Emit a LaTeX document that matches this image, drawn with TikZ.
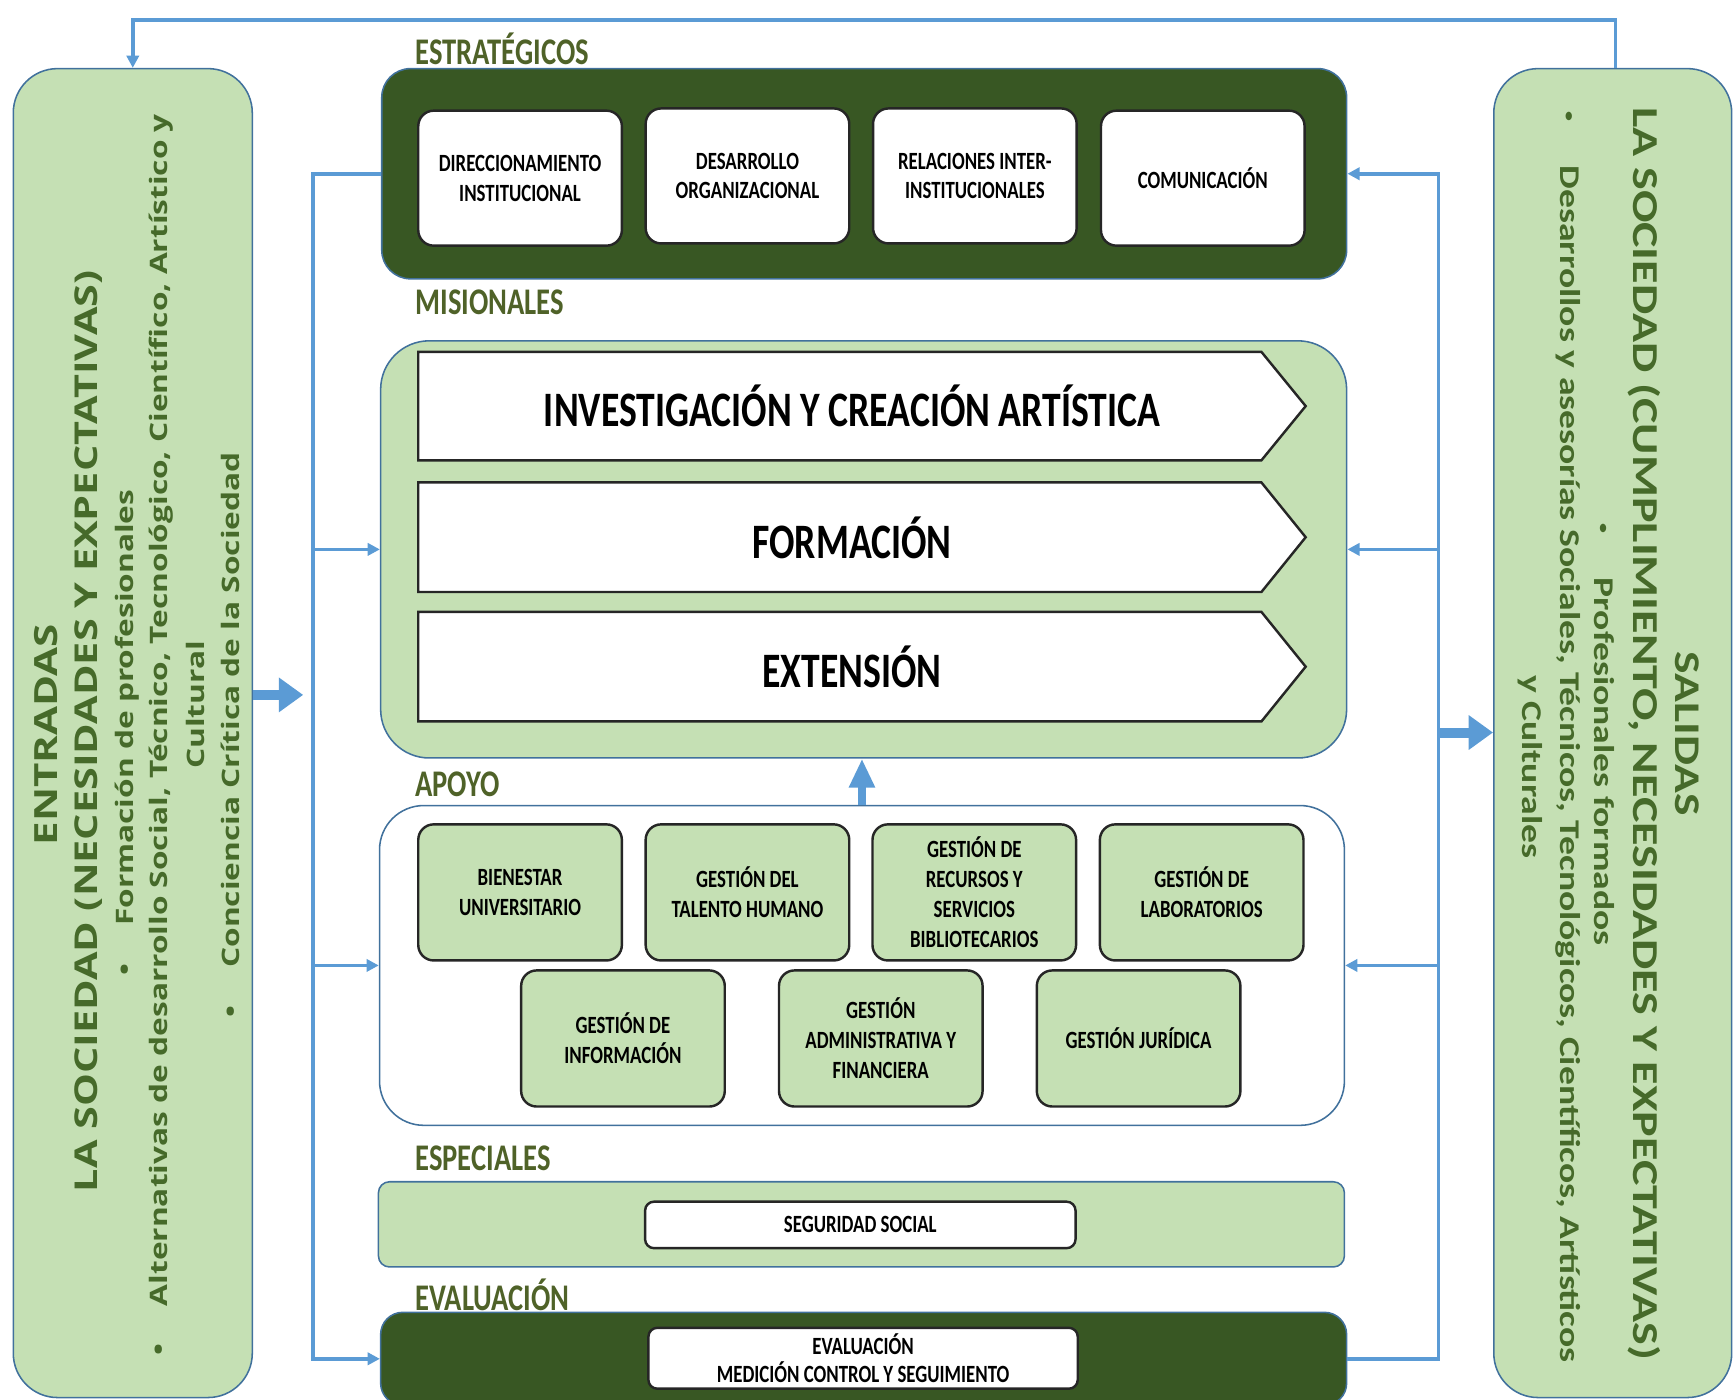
\documentclass[tikz,border=0pt]{standalone}
\usepackage{fontspec}
\usepackage{graphicx}
\setmainfont{Carlito}
\newfontfamily\sqfont[FakeStretch=0.76]{Carlito}
\newfontfamily\osans{Open Sans}
\usetikzlibrary{arrows.meta}
\definecolor{lgreen}{HTML}{C5E0B4}
\definecolor{dgreen}{HTML}{385723}
\definecolor{bordblue}{HTML}{41719C}
\definecolor{linkblue}{HTML}{5B9BD5}
\definecolor{lbl}{HTML}{4F6228}
\definecolor{sidetxt}{HTML}{466A2A}
\newcommand\fs[2]{\fontsize{#1}{#2}\selectfont}
\newcommand\vsq[1]{\scalebox{1}[0.76]{#1}}
\newcommand\smbul{\raisebox{2.6pt}{\fontsize{9}{9}\selectfont •}}
\begin{document}
\begin{tikzpicture}[x=0.5pt,y=-0.5pt,
  panel/.style={draw=bordblue, line width=0.7pt, inner sep=0pt},
  wbox/.style={draw=black!85, fill=white, rounded corners=7pt, line width=1.1pt,
    minimum width=92pt, minimum height=61pt, align=center, inner sep=1pt,
    font=\sqfont\bfseries\fs{11.2}{13.5}},
  gbox/.style={wbox, fill=lgreen},
  chev/.style={draw=black!85, fill=white, line width=1.1pt},
  chevtext/.style={font=\sqfont\bfseries\fs{22.4}{26}, inner sep=0pt},
  lab/.style={font=\sqfont\bfseries\fs{17}{20}, text=lbl, inner sep=0pt, anchor=west},
  conn/.style={draw=linkblue, line width=1.6pt},
  tip/.style={-{Triangle[length=5.5pt,width=5.5pt]}},
  bigarr/.style={draw=linkblue, line width=4.5pt, -{Triangle[length=11pt,width=15pt]}},
  midarr/.style={draw=linkblue, line width=3.5pt, -{Triangle[length=13pt,width=11pt]}},
  ltxt/.style={rotate=90, text=sidetxt, inner sep=0pt, font=\osans\bfseries},
  rtxt/.style={rotate=-90, text=sidetxt, inner sep=0pt, font=\bfseries},
]
\useasboundingbox (0,0) rectangle (1568,1265);

% side panels
\node[panel, fill=lgreen, rounded corners=20pt, minimum width=108pt, minimum height=600.5pt] (L) at (120,662.5) {};
\node[panel, fill=lgreen, rounded corners=20pt, minimum width=107.5pt, minimum height=600.5pt] (R) at (1457.5,662.5) {};

% central panels
\node[panel, fill=dgreen, rounded corners=13pt, minimum width=436pt, minimum height=95pt] (S) at (781,157) {};
\node[panel, fill=lgreen, rounded corners=22pt, minimum width=436.5pt, minimum height=188.5pt] (M) at (780.5,496.5) {};
\node[panel, fill=white, rounded corners=20pt, minimum width=436pt, minimum height=144.5pt] (A) at (779,872.5) {};
\node[panel, fill=lgreen, rounded corners=5pt, minimum width=436.5pt, minimum height=38.5pt] (E) at (778.5,1106.5) {};
\node[panel, fill=dgreen, rounded corners=10pt, minimum width=436.5pt, minimum height=42pt] (V) at (780.5,1228) {};

% section labels
\node[lab] (lest) at (375,44) {ESTRATÉGICOS};
\node[lab] (lmis) at (375,273) {MISIONALES};
\node[lab] (lapo) at (375,709) {APOYO};
\node[lab] (lesp) at (375,1047) {ESPECIALES};
\node[lab] (leva) at (375,1170) {EVALUACIÓN};

% strategic boxes
\node[wbox] (s1) at (470,161) {DIRECCIONAMIENTO\\INSTITUCIONAL};
\node[wbox] (s2) at (675.5,159) {DESARROLLO\\ORGANIZACIONAL};
\node[wbox] (s3) at (881,159) {RELACIONES INTER-\\INSTITUCIONALES};
\node[wbox] (s4) at (1087,161) {COMUNICACIÓN};

% chevrons
\draw[chev] (378,318) -- (1140,318) -- (1180,367) -- (1140,416) -- (378,416) -- cycle;
\draw[chev] (378,436) -- (1140,436) -- (1180,485.5) -- (1140,535) -- (378,535) -- cycle;
\draw[chev] (378,553) -- (1140,553) -- (1180,602.5) -- (1140,652) -- (378,652) -- cycle;
\node[chevtext] (m1) at (770,367) {INVESTIGACIÓN Y CREACIÓN ARTÍSTICA};
\node[chevtext] (m2) at (770,486) {FORMACIÓN};
\node[chevtext] (m3) at (770,603) {EXTENSIÓN};

% apoyo boxes
\node[gbox, minimum height=61.5pt] (a1) at (470,806.5) {BIENESTAR\\UNIVERSITARIO};
\node[gbox, minimum height=61.5pt] (a2) at (675.5,806.5) {GESTIÓN DEL\\TALENTO HUMANO};
\node[gbox, minimum height=61.5pt] (a3) at (880.5,806.5) {GESTIÓN DE\\RECURSOS Y\\SERVICIOS\\BIBLIOTECARIOS};
\node[gbox, minimum height=61.5pt] (a4) at (1086,806.5) {GESTIÓN DE\\LABORATORIOS};
\node[gbox, minimum height=61.5pt] (a5) at (563,938.5) {GESTIÓN DE\\INFORMACIÓN};
\node[gbox, minimum height=61.5pt] (a6) at (796,938.5) {GESTIÓN\\ADMINISTRATIVA Y\\FINANCIERA};
\node[gbox, minimum height=61.5pt] (a7) at (1029,938.5) {GESTIÓN JURÍDICA};

% especiales / evaluacion
\node[wbox, rounded corners=4pt, minimum width=194.5pt, minimum height=21pt] (e1) at (777.5,1107) {SEGURIDAD SOCIAL};
\node[wbox, rounded corners=4pt, minimum width=194pt, minimum height=27.5pt, font=\sqfont\bfseries\fs{11.2}{12.5}] (v1) at (780,1227.5) {EVALUACIÓN\\MEDICIÓN CONTROL Y SEGUIMIENTO};

% connectors
\coordinate (rtop) at (1460,18);
\coordinate (ltop) at (120,18);
\coordinate (lbx) at (283,0);
\coordinate (rbx) at (1300,0);
\coordinate (bl) at (274,628);
\coordinate (br) at (1300,662);
\draw[conn,tip] (R.north -| rtop) -- (rtop) -- (ltop) -- (L.north -| ltop);
\draw[conn,tip] (S.west) -| (lbx |- V.west) -- (V.west);
\draw[conn,tip] (lbx |- M.west) -- (M.west);
\draw[conn,tip] (lbx |- A.west) -- (A.west);
\draw[conn,tip] (V.east) -| (rbx |- S.east) -- (S.east);
\draw[conn,tip] (rbx |- M.east) -- (M.east);
\draw[conn,tip] (rbx |- A.east) -- (A.east);
\draw[bigarr] (L.east |- bl) -- (bl);
\draw[bigarr] (br) -- (R.west |- br);
\draw[midarr] (A.north) -- (A.north |- M.south);

% left text
\node[ltxt, font=\osans\bfseries\fs{19}{22}] (l1) at (42,664) {\vsq{ENTRADAS}};
\node[ltxt, font=\osans\bfseries\fs{18.7}{22}] (l2) at (80,661) {\vsq{LA SOCIEDAD (NECESIDADES Y EXPECTATIVAS)}};
\node[ltxt, font=\osans\bfseries\fs{14.3}{17}] (l3) at (115,662) {\vsq{•\hspace{17pt}Formación de profesionales}};
\node[ltxt, font=\osans\bfseries\fs{14.3}{17}] (l4) at (146,664) {\vsq{•\hspace{17pt}Alternativas de desarrollo Social, Técnico, Tecnológico, Científico, Artístico y}};
\node[ltxt, font=\osans\bfseries\fs{14.3}{17}] (l5) at (177,637) {\vsq{Cultural}};
\node[ltxt, font=\osans\bfseries\fs{14.3}{17}] (l6) at (208,664) {\vsq{•\hspace{17pt}Conciencia Crítica de la Sociedad}};

% right text
\node[rtxt, font=\bfseries\fs{21.5}{24}] (r1) at (1525,663) {\vsq{SALIDAS}};
\node[rtxt, font=\bfseries\fs{21.7}{24}] (r2) at (1486,663) {\vsq{LA SOCIEDAD (CUMPLIMIENTO, NECESIDADES Y EXPECTATIVAS)}};
\node[rtxt, font=\bfseries\fs{17}{20}] (r3) at (1450,664) {\vsq{\smbul\hspace{20pt}Profesionales formados}};
\node[rtxt, font=\bfseries\fs{17}{20}] (r4) at (1417,666) {\vsq{\smbul\hspace{20pt}Desarrollos y asesorías Sociales, Técnicos, Tecnológicos, Científicos, Artísticos}};
\node[rtxt, font=\bfseries\fs{17}{20}] (r5) at (1383,693) {\vsq{y Culturales}};
\end{tikzpicture}
\end{document}
